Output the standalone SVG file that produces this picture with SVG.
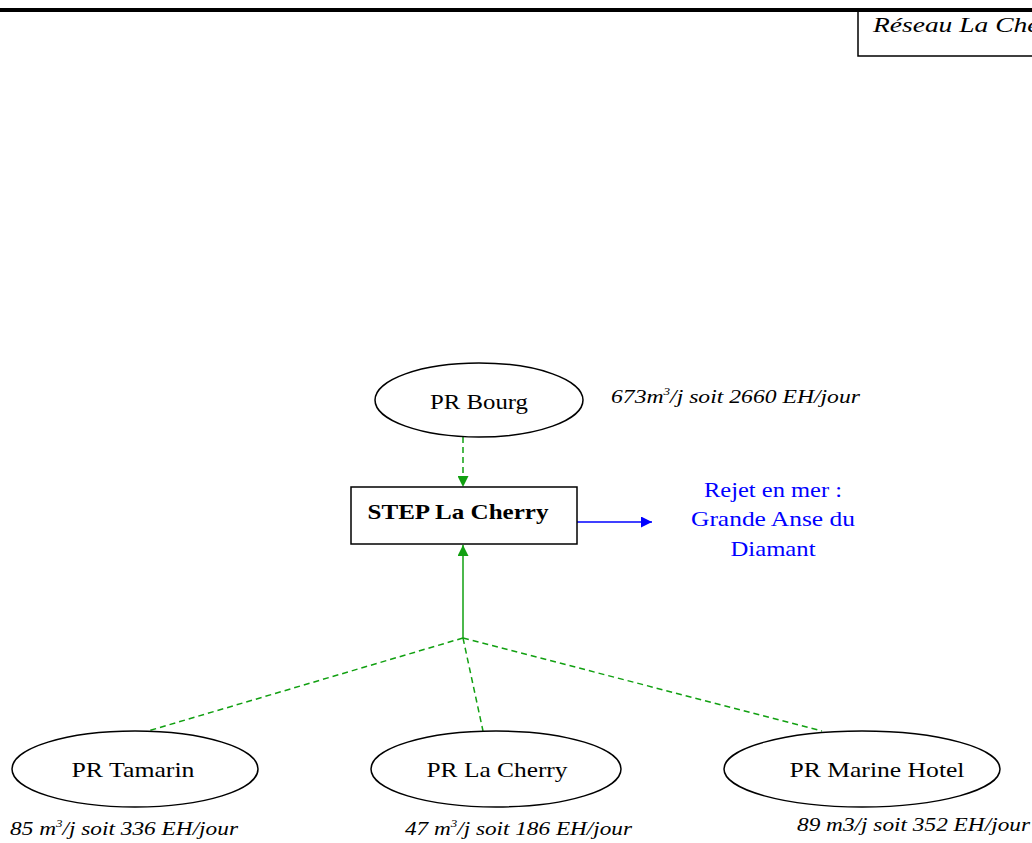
<svg xmlns="http://www.w3.org/2000/svg" width="1032" height="843" viewBox="0 0 1032 843">
  <style>
    .node { fill: #ffffff; stroke: #000000; stroke-width: 1.5; }
    .lbl { font-family: "Liberation Serif", "Times New Roman", serif; font-size: 22px; fill: #000000; text-anchor: middle; }
    .flow { font-family: "Liberation Serif", "Times New Roman", serif; font-size: 18px; font-style: italic; fill: #000000; }
    .blue { font-family: "Liberation Serif", "Times New Roman", serif; font-size: 21px; fill: #0000ff; text-anchor: middle; }
    .green { stroke: #11a011; stroke-width: 1.5; fill: none; }
    .dash { stroke-dasharray: 6 4; }
  </style>
  <defs>
    <marker id="arrowGreen" viewBox="0 0 10 10" refX="10" refY="5" markerWidth="12" markerHeight="11" markerUnits="userSpaceOnUse" orient="auto">
      <path d="M0,0 L10,5 L0,10 z" fill="#11a011"/>
    </marker>
    <marker id="arrowBlue" viewBox="0 0 10 10" refX="10" refY="5" markerWidth="13" markerHeight="11" markerUnits="userSpaceOnUse" orient="auto">
      <path d="M0,0 L10,5 L0,10 z" fill="#0000ff"/>
    </marker>
  </defs>

  <rect width="1032" height="843" fill="#ffffff"/>

  <!-- header rule and title frame -->
  <g id="header">
    <rect x="0" y="8" width="1032" height="4" fill="#000000"/>
    <path d="M858,12 V56 H1033" fill="none" stroke="#000000" stroke-width="1.5"/>
    <text x="873" y="32" font-family="Liberation Serif, serif" font-size="20" font-style="italic" textLength="200" lengthAdjust="spacingAndGlyphs">Réseau La Cherry</text>
  </g>

  <!-- connectors -->
  <g id="connectors">
    <line class="green dash" x1="463" y1="437" x2="463" y2="487" marker-end="url(#arrowGreen)"/>
    <line class="green" x1="463" y1="638" x2="463" y2="545" marker-end="url(#arrowGreen)"/>
    <line class="green dash" x1="463" y1="638" x2="148" y2="731"/>
    <line class="green dash" x1="463" y1="638" x2="483" y2="731"/>
    <line class="green dash" x1="463" y1="638" x2="822" y2="731"/>
    <line x1="577" y1="522" x2="652" y2="522" stroke="#0000ff" stroke-width="1.5" marker-end="url(#arrowBlue)"/>
  </g>

  <g id="pr-bourg">
    <ellipse class="node" cx="479" cy="400" rx="104" ry="37"/>
    <text class="lbl" x="479" y="409" textLength="98" lengthAdjust="spacingAndGlyphs">PR Bourg</text>
    <text class="flow" x="611" y="403" textLength="249" lengthAdjust="spacingAndGlyphs">673m<tspan font-size="10" dy="-8">3</tspan><tspan dy="8">/j soit 2660 EH/jour</tspan></text>
  </g>

  <g id="step-la-cherry">
    <rect class="node" x="351" y="487" width="226" height="57"/>
    <text class="lbl" x="458" y="519" font-weight="bold" textLength="181" lengthAdjust="spacingAndGlyphs">STEP La Cherry</text>
  </g>

  <g id="rejet">
    <text class="blue" x="773" y="497" textLength="138" lengthAdjust="spacingAndGlyphs">Rejet en mer :</text>
    <text class="blue" x="773" y="526" textLength="164" lengthAdjust="spacingAndGlyphs">Grande Anse du</text>
    <text class="blue" x="773" y="556" textLength="85" lengthAdjust="spacingAndGlyphs">Diamant</text>
  </g>

  <g id="pr-tamarin">
    <ellipse class="node" cx="135" cy="769" rx="123" ry="38"/>
    <text class="lbl" x="133" y="777" textLength="123" lengthAdjust="spacingAndGlyphs">PR Tamarin</text>
    <text class="flow" x="10" y="835" textLength="228" lengthAdjust="spacingAndGlyphs">85 m<tspan font-size="10" dy="-8">3</tspan><tspan dy="8">/j soit 336 EH/jour</tspan></text>
  </g>

  <g id="pr-la-cherry">
    <ellipse class="node" cx="496" cy="769" rx="125" ry="38"/>
    <text class="lbl" x="497" y="777" textLength="141" lengthAdjust="spacingAndGlyphs">PR La Cherry</text>
    <text class="flow" x="405" y="835" textLength="227" lengthAdjust="spacingAndGlyphs">47 m<tspan font-size="10" dy="-8">3</tspan><tspan dy="8">/j soit 186 EH/jour</tspan></text>
  </g>

  <g id="pr-marine-hotel">
    <ellipse class="node" cx="862" cy="769" rx="138" ry="38"/>
    <text class="lbl" x="877" y="777" textLength="175" lengthAdjust="spacingAndGlyphs">PR Marine Hotel</text>
    <text class="flow" x="797" y="831" textLength="233" lengthAdjust="spacingAndGlyphs">89 m3/j soit 352 EH/jour</text>
  </g>
</svg>
